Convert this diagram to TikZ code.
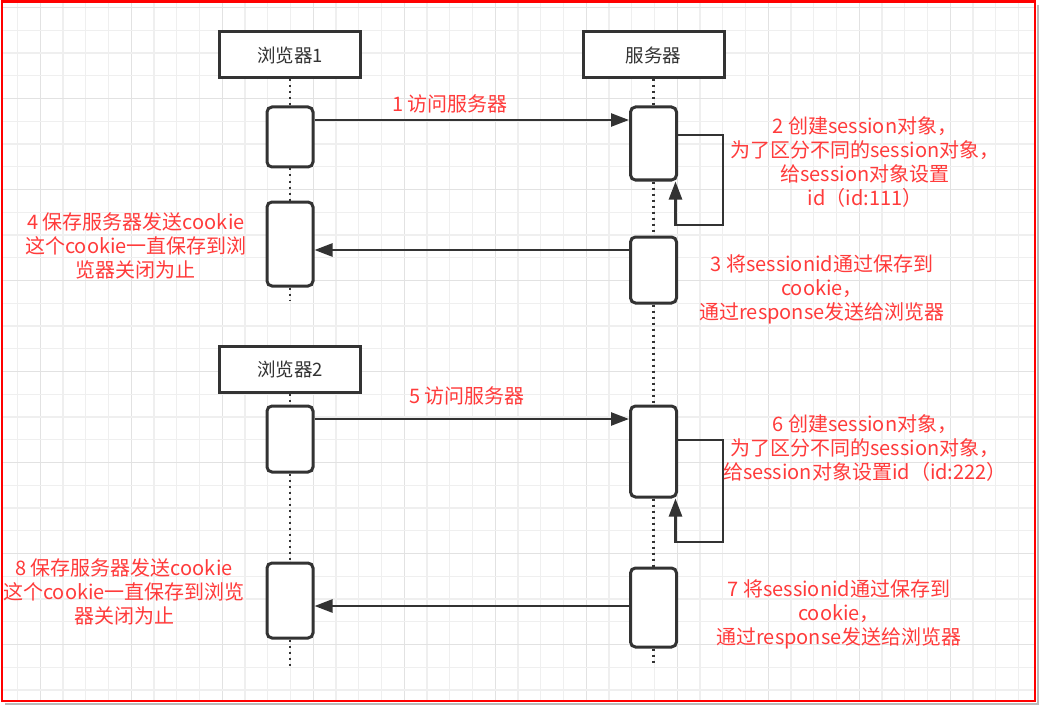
\documentclass[tikz,border=0pt]{standalone}
\usepackage{fontspec}
\setmainfont{Noto Sans CJK SC}
\usetikzlibrary{arrows.meta}
\definecolor{lred}{HTML}{FF3B3B}
\definecolor{dk}{HTML}{333333}
\definecolor{gminor}{HTML}{EFEFEF}
\definecolor{gmajor}{HTML}{E2E2E2}
\begin{document}
\begin{tikzpicture}[x=1pt,y=-1pt,
  actor/.style={draw=dk, line width=3pt, minimum width=141pt, minimum height=46pt, fill=white, text=dk, font=\fontsize{18.5}{22}\selectfont, inner sep=0pt},
  act/.style={draw=dk, line width=3pt, rounded corners=5pt, fill=white, minimum width=46pt, inner sep=0pt},
  lbl/.style={text=lred, font=\fontsize{20}{24}\selectfont, align=center, inner sep=0pt},
  msg/.style={draw=dk, line width=2.5pt, -{Triangle[length=18pt,width=13pt]}},
  life/.style={draw=dk, line width=2.2pt, dash pattern=on 2pt off 4pt}]
\useasboundingbox (0,0) rectangle (1039,706);
\fill[white] (0,0) rectangle (1039,706);
% grid
\begin{scope}
\clip (2,1.5) rectangle (1035,701);
\foreach \i in {0,...,46} {
  \pgfmathsetmacro{\xx}{-5.25+22.75*\i}
  \pgfmathtruncatemacro{\mm}{mod(\i,4)}
  \ifnum\mm=2 \draw[gmajor,line width=1.2pt] (\xx,0) -- (\xx,706);
  \else \draw[gminor,line width=1.2pt] (\xx,0) -- (\xx,706); \fi
}
\foreach \j in {0,...,31} {
  \pgfmathsetmacro{\yy}{7.5+22.75*\j}
  \pgfmathtruncatemacro{\mm}{mod(\j,4)}
  \ifnum\mm=0 \draw[gmajor,line width=1.2pt] (0,\yy) -- (1039,\yy);
  \else \draw[gminor,line width=1.2pt] (0,\yy) -- (1039,\yy); \fi
}
\end{scope}
% frame
\draw[gray!55, line width=2pt] (1037.5,5) -- (1037.5,704) -- (5,704);
\draw[red, line width=2.5pt] (2,1.5) rectangle (1035,701);

% actors
\node[actor] (b1) at (290,55) {浏览器1};
\node[actor] (s) at (653.5,55) {服务器};
\node[actor] (b2) at (290,369) {浏览器2};

% activation boxes
\node[act, minimum height=60pt] (b1a) at (290,137) {};
\node[act, minimum height=84pt] (b1b) at (290,244) {};
\node[act, minimum height=73pt] (sa) at (653.5,143.5) {};
\node[act, minimum height=66pt] (sb) at (653.5,270) {};
\node[act, minimum height=66pt] (b2a) at (290,439) {};
\node[act, minimum height=75pt] (b2b) at (290,600.5) {};
\node[act, minimum height=91pt] (sc) at (653.5,451.5) {};
\node[act, minimum height=79pt] (sd) at (653.5,607.5) {};

\coordinate (b1end) at (290,300);
\coordinate (b2end) at (290,667);
\coordinate (send) at (653.5,663);

% lifelines
\draw[life] (b1.south) -- (b1a.north);
\draw[life] (b1a.south) -- (b1b.north);
\draw[life] (b1b.south) -- (b1end);
\draw[life] (s.south) -- (sa.north);
\draw[life] (sa.south) -- (sb.north);
\draw[life] (sb.south) -- (sc.north);
\draw[life] (sc.south) -- (sd.north);
\draw[life] (sd.south) -- (send);
\draw[life] (b2.south) -- (b2a.north);
\draw[life] (b2a.south) -- (b2b.north);
\draw[life] (b2b.south) -- (b2end);

% messages
\draw[msg] (b1a.east |- 0,120) -- (sa.west |- 0,120);
\draw[msg] (sb.west |- 0,250) -- (b1b.east |- 0,250);
\draw[msg] (b2a.east |- 0,419) -- (sc.west |- 0,419);
\draw[msg] (sd.west |- 0,606) -- (b2b.east |- 0,606);

% self loops
\draw[msg] ([yshift=8.5pt]sa.east) -- ++(45,0) -- ++(0,90) -| ([xshift=-2.5pt]sa.south east);
\draw[msg] ([yshift=11.5pt]sc.east) -- ++(45,0) -- ++(0,102) -| ([xshift=-2.5pt]sc.south east);

% labels
\node[lbl] (l1) at (450,104) {1 访问服务器};
\node[lbl] (l2) at (865,162) {2 创建session对象，\\为了区分不同的session对象，\\给session对象设置\\id（id:111）};
\node[lbl] (l3) at (822,289) {3 将sessionid通过保存到\\cookie，\\通过response发送给浏览器};
\node[lbl] (l4) at (136,246) {4 保存服务器发送cookie\\这个cookie一直保存到浏\\览器关闭为止};
\node[lbl] (l5) at (467,396) {5 访问服务器};
\node[lbl] (l6) at (865,448) {6 创建session对象，\\为了区分不同的session对象，\\给session对象设置id（id:222）};
\node[lbl] (l7) at (839,614) {7 将sessionid通过保存到\\cookie，\\通过response发送给浏览器};
\node[lbl] (l8) at (124,592) {8 保存服务器发送cookie\\这个cookie一直保存到浏览\\器关闭为止};
\end{tikzpicture}
\end{document}
